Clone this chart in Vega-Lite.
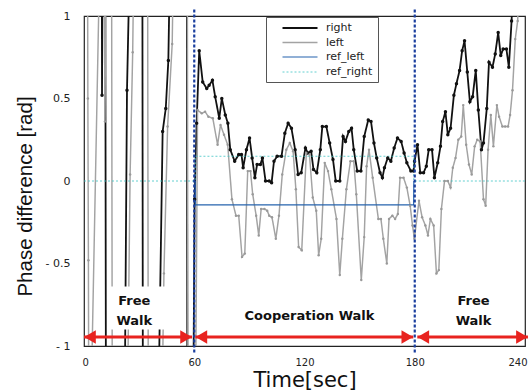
{
  "$schema": "https://vega.github.io/schema/vega-lite/v6.json",
  "width": 441,
  "height": 330,
  "autosize": {"type": "none"},
  "padding": {"left": 84, "top": 16, "right": 7, "bottom": 44},
  "background": "white",
  "config": {
    "view": {"stroke": "#222", "strokeWidth": 1.2},
    "font": "DejaVu Sans"
  },
  "datasets": {
    "series": [
      {"t": 9.4, "v": 4, "s": "right"}, {"t": 9.8, "v": 0.52, "s": "right"}, {"t": 11.2, "v": 4, "s": "right"}, {"t": 12.3, "v": -4, "s": "right"},
      {"t": 22.0, "v": -1.6, "s": "right"}, {"t": 23.4, "v": 0.55, "s": "right"}, {"t": 25.4, "v": 1.6, "s": "right"},
      {"t": 31.5, "v": 4, "s": "right"}, {"t": 32.3, "v": -4, "s": "right"},
      {"t": 40.3, "v": -1.5, "s": "right"}, {"t": 42.8, "v": 0.30, "s": "right"}, {"t": 44.5, "v": 0.44, "s": "right"}, {"t": 45.9, "v": 0.73, "s": "right"}, {"t": 47.2, "v": 1.6, "s": "right"},
      {"t": 55.7, "v": 4, "s": "right"}, {"t": 56.5, "v": -4, "s": "right"}, {"t": 58.8, "v": -2.5, "s": "right"}, {"t": 60.2, "v": -0.11, "s": "right"},
      {"t": 61.3, "v": 0.35, "s": "right"}, {"t": 62.7, "v": 0.79, "s": "right"},
      {"t": 64.6, "v": 0.60, "s": "right"}, {"t": 66.8, "v": 0.56, "s": "right"}, {"t": 68.1, "v": 0.58, "s": "right"}, {"t": 69.9, "v": 0.61, "s": "right"},
      {"t": 71.4, "v": 0.51, "s": "right"}, {"t": 73.6, "v": 0.38, "s": "right"}, {"t": 75.0, "v": 0.50, "s": "right"}, {"t": 76.9, "v": 0.40, "s": "right"},
      {"t": 78.3, "v": 0.35, "s": "right"}, {"t": 79.6, "v": 0.19, "s": "right"}, {"t": 82.0, "v": 0.12, "s": "right"}, {"t": 84.2, "v": 0.16, "s": "right"},
      {"t": 85.7, "v": 0.16, "s": "right"}, {"t": 86.6, "v": 0.08, "s": "right"}, {"t": 88.4, "v": 0.19, "s": "right"}, {"t": 90.1, "v": 0.26, "s": "right"},
      {"t": 91.5, "v": 0.14, "s": "right"}, {"t": 93.0, "v": 0.02, "s": "right"}, {"t": 94.2, "v": 0.10, "s": "right"}, {"t": 96.0, "v": 0.10, "s": "right"},
      {"t": 97.1, "v": 0.14, "s": "right"}, {"t": 98.8, "v": 0.00, "s": "right"}, {"t": 100.8, "v": 0.00, "s": "right"}, {"t": 102.1, "v": -0.01, "s": "right"},
      {"t": 103.4, "v": 0.12, "s": "right"}, {"t": 105.1, "v": 0.15, "s": "right"}, {"t": 107.5, "v": 0.15, "s": "right"}, {"t": 109.3, "v": 0.29, "s": "right"},
      {"t": 111.1, "v": 0.35, "s": "right"}, {"t": 112.9, "v": 0.32, "s": "right"}, {"t": 114.9, "v": 0.19, "s": "right"}, {"t": 116.5, "v": 0.04, "s": "right"},
      {"t": 118.2, "v": 0.05, "s": "right"}, {"t": 120.5, "v": 0.20, "s": "right"}, {"t": 121.8, "v": 0.17, "s": "right"}, {"t": 123.6, "v": 0.18, "s": "right"},
      {"t": 124.9, "v": 0.07, "s": "right"}, {"t": 126.7, "v": 0.05, "s": "right"}, {"t": 128.6, "v": 0.19, "s": "right"}, {"t": 129.7, "v": 0.33, "s": "right"},
      {"t": 131.9, "v": 0.33, "s": "right"}, {"t": 133.7, "v": 0.23, "s": "right"}, {"t": 135.5, "v": 0.13, "s": "right"}, {"t": 137.0, "v": 0.00, "s": "right"},
      {"t": 139.2, "v": 0.00, "s": "right"}, {"t": 141.0, "v": 0.27, "s": "right"}, {"t": 142.3, "v": 0.24, "s": "right"}, {"t": 144.1, "v": 0.30, "s": "right"},
      {"t": 145.6, "v": 0.32, "s": "right"}, {"t": 146.8, "v": 0.19, "s": "right"}, {"t": 148.7, "v": 0.06, "s": "right"}, {"t": 150.7, "v": 0.06, "s": "right"},
      {"t": 152.5, "v": 0.27, "s": "right"}, {"t": 154.7, "v": 0.37, "s": "right"}, {"t": 156.2, "v": 0.36, "s": "right"}, {"t": 157.8, "v": 0.23, "s": "right"},
      {"t": 159.3, "v": 0.14, "s": "right"}, {"t": 161.1, "v": 0.05, "s": "right"}, {"t": 162.4, "v": 0.02, "s": "right"}, {"t": 163.5, "v": 0.08, "s": "right"},
      {"t": 165.3, "v": 0.14, "s": "right"}, {"t": 167.0, "v": 0.12, "s": "right"}, {"t": 168.8, "v": 0.20, "s": "right"}, {"t": 170.6, "v": 0.26, "s": "right"},
      {"t": 172.6, "v": 0.24, "s": "right"}, {"t": 174.2, "v": 0.17, "s": "right"}, {"t": 175.7, "v": 0.11, "s": "right"}, {"t": 177.9, "v": 0.06, "s": "right"},
      {"t": 179.3, "v": 0.06, "s": "right"}, {"t": 179.9, "v": 0.12, "s": "right"}, {"t": 181.5, "v": 0.22, "s": "right"}, {"t": 183.0, "v": 0.05, "s": "right"},
      {"t": 184.8, "v": 0.05, "s": "right"}, {"t": 186.3, "v": 0.09, "s": "right"}, {"t": 187.6, "v": 0.19, "s": "right"}, {"t": 189.4, "v": 0.19, "s": "right"},
      {"t": 190.7, "v": 0.02, "s": "right"}, {"t": 192.5, "v": 0.11, "s": "right"}, {"t": 194.0, "v": 0.21, "s": "right"}, {"t": 195.2, "v": 0.36, "s": "right"},
      {"t": 196.7, "v": 0.42, "s": "right"}, {"t": 198.0, "v": 0.28, "s": "right"}, {"t": 199.5, "v": 0.32, "s": "right"}, {"t": 201.3, "v": 0.52, "s": "right"},
      {"t": 202.7, "v": 0.59, "s": "right"}, {"t": 204.4, "v": 0.67, "s": "right"}, {"t": 205.8, "v": 0.79, "s": "right"}, {"t": 207.1, "v": 0.85, "s": "right"},
      {"t": 208.6, "v": 0.66, "s": "right"}, {"t": 210.0, "v": 0.48, "s": "right"}, {"t": 211.5, "v": 0.51, "s": "right"}, {"t": 213.2, "v": 0.67, "s": "right"},
      {"t": 214.6, "v": 0.43, "s": "right"}, {"t": 216.3, "v": 0.19, "s": "right"}, {"t": 217.4, "v": 0.23, "s": "right"}, {"t": 219.2, "v": 0.44, "s": "right"},
      {"t": 220.4, "v": 0.72, "s": "right"}, {"t": 222.3, "v": 0.69, "s": "right"}, {"t": 223.8, "v": 0.77, "s": "right"}, {"t": 225.4, "v": 0.90, "s": "right"},
      {"t": 226.8, "v": 0.76, "s": "right"}, {"t": 228.1, "v": 0.80, "s": "right"}, {"t": 229.9, "v": 0.80, "s": "right"}, {"t": 231.2, "v": 0.69, "s": "right"},
      {"t": 232.7, "v": 0.97, "s": "right"}, {"t": 234.5, "v": 1.5, "s": "right"},

      {"t": 1.8, "v": 2, "s": "left"}, {"t": 2.1, "v": 0.5, "s": "left"}, {"t": 2.4, "v": -0.48, "s": "left"}, {"t": 2.7, "v": -2, "s": "left"},
      {"t": 10.6, "v": 2.5, "s": "left"}, {"t": 11.4, "v": 0.36, "s": "left"}, {"t": 13.0, "v": 3, "s": "left"}, {"t": 14.8, "v": 3, "s": "left"}, {"t": 15.6, "v": -3, "s": "left"},
      {"t": 23.5, "v": -1.5, "s": "left"}, {"t": 25.1, "v": 0.04, "s": "left"}, {"t": 26.5, "v": 0.78, "s": "left"}, {"t": 27.6, "v": 1.8, "s": "left"},
      {"t": 34.4, "v": 3, "s": "left"}, {"t": 35.2, "v": -3, "s": "left"},
      {"t": 42.3, "v": -1.5, "s": "left"}, {"t": 43.5, "v": -0.56, "s": "left"}, {"t": 45.5, "v": 0.33, "s": "left"}, {"t": 48.0, "v": 0.83, "s": "left"}, {"t": 49.0, "v": 1.6, "s": "left"},
      {"t": 56.0, "v": 3, "s": "left"}, {"t": 56.8, "v": -3, "s": "left"}, {"t": 60.3, "v": -2, "s": "left"},
      {"t": 61.8, "v": 0.43, "s": "left"}, {"t": 64.1, "v": 0.41, "s": "left"}, {"t": 65.9, "v": 0.42, "s": "left"}, {"t": 67.7, "v": 0.39, "s": "left"},
      {"t": 70.1, "v": 0.38, "s": "left"}, {"t": 72.7, "v": 0.22, "s": "left"}, {"t": 74.3, "v": 0.34, "s": "left"}, {"t": 76.2, "v": 0.28, "s": "left"},
      {"t": 78.2, "v": 0.22, "s": "left"}, {"t": 80.5, "v": -0.11, "s": "left"}, {"t": 82.7, "v": -0.21, "s": "left"}, {"t": 84.2, "v": -0.21, "s": "left"},
      {"t": 86.0, "v": -0.46, "s": "left"}, {"t": 87.5, "v": -0.44, "s": "left"}, {"t": 89.1, "v": 0.06, "s": "left"}, {"t": 90.6, "v": 0.06, "s": "left"},
      {"t": 91.8, "v": -0.08, "s": "left"}, {"t": 93.7, "v": -0.21, "s": "left"}, {"t": 95.1, "v": -0.33, "s": "left"}, {"t": 96.4, "v": -0.17, "s": "left"},
      {"t": 98.2, "v": -0.17, "s": "left"}, {"t": 99.7, "v": -0.18, "s": "left"}, {"t": 100.8, "v": -0.21, "s": "left"}, {"t": 102.3, "v": -0.22, "s": "left"},
      {"t": 104.4, "v": -0.35, "s": "left"}, {"t": 106.1, "v": -0.21, "s": "left"}, {"t": 107.9, "v": 0.04, "s": "left"}, {"t": 110.1, "v": 0.19, "s": "left"},
      {"t": 112.0, "v": 0.23, "s": "left"}, {"t": 113.8, "v": 0.18, "s": "left"}, {"t": 115.3, "v": -0.05, "s": "left"}, {"t": 116.8, "v": -0.40, "s": "left"},
      {"t": 118.5, "v": -0.42, "s": "left"}, {"t": 121.0, "v": 0.17, "s": "left"}, {"t": 122.7, "v": 0.16, "s": "left"}, {"t": 124.5, "v": -0.10, "s": "left"},
      {"t": 126.4, "v": -0.18, "s": "left"}, {"t": 127.7, "v": -0.45, "s": "left"}, {"t": 129.1, "v": -0.35, "s": "left"}, {"t": 131.0, "v": 0.11, "s": "left"},
      {"t": 132.8, "v": 0.06, "s": "left"}, {"t": 134.6, "v": -0.05, "s": "left"}, {"t": 137.4, "v": -0.23, "s": "left"}, {"t": 139.2, "v": -0.57, "s": "left"},
      {"t": 140.6, "v": -0.35, "s": "left"}, {"t": 142.8, "v": -0.05, "s": "left"}, {"t": 145.0, "v": 0.12, "s": "left"}, {"t": 146.8, "v": 0.12, "s": "left"},
      {"t": 148.2, "v": -0.08, "s": "left"}, {"t": 150.9, "v": -0.60, "s": "left"}, {"t": 152.5, "v": -0.34, "s": "left"}, {"t": 153.8, "v": 0.09, "s": "left"},
      {"t": 155.1, "v": 0.19, "s": "left"}, {"t": 157.1, "v": 0.02, "s": "left"}, {"t": 160.2, "v": -0.23, "s": "left"}, {"t": 161.6, "v": -0.23, "s": "left"},
      {"t": 162.9, "v": -0.35, "s": "left"}, {"t": 164.8, "v": -0.50, "s": "left"}, {"t": 166.0, "v": -0.23, "s": "left"}, {"t": 167.8, "v": -0.21, "s": "left"},
      {"t": 169.3, "v": -0.23, "s": "left"}, {"t": 170.8, "v": -0.20, "s": "left"}, {"t": 172.0, "v": 0.02, "s": "left"}, {"t": 173.9, "v": 0.02, "s": "left"},
      {"t": 175.7, "v": -0.04, "s": "left"}, {"t": 177.5, "v": -0.15, "s": "left"}, {"t": 178.8, "v": -0.27, "s": "left"}, {"t": 179.8, "v": -0.35, "s": "left"},
      {"t": 182.3, "v": -0.12, "s": "left"}, {"t": 184.0, "v": -0.22, "s": "left"}, {"t": 185.8, "v": -0.27, "s": "left"}, {"t": 187.2, "v": -0.33, "s": "left"},
      {"t": 188.5, "v": -0.23, "s": "left"}, {"t": 190.3, "v": -0.27, "s": "left"}, {"t": 191.8, "v": -0.56, "s": "left"}, {"t": 193.1, "v": -0.54, "s": "left"},
      {"t": 194.5, "v": -0.17, "s": "left"}, {"t": 196.2, "v": 0.00, "s": "left"}, {"t": 198.0, "v": 0.00, "s": "left"}, {"t": 199.5, "v": -0.04, "s": "left"},
      {"t": 200.7, "v": 0.08, "s": "left"}, {"t": 202.2, "v": 0.14, "s": "left"}, {"t": 203.7, "v": 0.25, "s": "left"}, {"t": 205.3, "v": 0.27, "s": "left"},
      {"t": 206.4, "v": 0.46, "s": "left"}, {"t": 208.0, "v": 0.22, "s": "left"}, {"t": 209.5, "v": 0.10, "s": "left"}, {"t": 211.0, "v": 0.04, "s": "left"},
      {"t": 212.6, "v": 0.21, "s": "left"}, {"t": 214.0, "v": 0.25, "s": "left"}, {"t": 215.6, "v": 0.24, "s": "left"}, {"t": 217.4, "v": -0.11, "s": "left"},
      {"t": 218.6, "v": -0.15, "s": "left"}, {"t": 219.9, "v": 0.19, "s": "left"}, {"t": 221.4, "v": 0.40, "s": "left"}, {"t": 222.8, "v": 0.21, "s": "left"},
      {"t": 224.7, "v": 0.46, "s": "left"}, {"t": 225.9, "v": 0.39, "s": "left"}, {"t": 227.7, "v": 0.33, "s": "left"}, {"t": 229.2, "v": 0.33, "s": "left"},
      {"t": 230.8, "v": 0.33, "s": "left"}, {"t": 231.9, "v": 0.40, "s": "left"}, {"t": 233.2, "v": 0.55, "s": "left"}, {"t": 234.7, "v": 0.86, "s": "left"},
      {"t": 236.0, "v": 0.97, "s": "left"}, {"t": 237.5, "v": 1.4, "s": "left"},

      {"t": 60.5, "v": 0, "s": "ref_left"}, {"t": 60.6, "v": -0.145, "s": "ref_left"}, {"t": 179.4, "v": -0.145, "s": "ref_left"}, {"t": 179.5, "v": 0, "s": "ref_left"},

      {"t": 0, "v": 0, "s": "ref_right"}, {"t": 60.5, "v": 0, "s": "ref_right"}, {"t": 60.6, "v": 0.15, "s": "ref_right"}, {"t": 179.4, "v": 0.15, "s": "ref_right"}, {"t": 179.5, "v": 0, "s": "ref_right"}, {"t": 240, "v": 0, "s": "ref_right"}
    ],
    "phases": [
      {"t1": 0, "t2": 58.8},
      {"t1": 60.6, "t2": 179.2},
      {"t1": 181.4, "t2": 241.6}
    ],
    "bounds": [{"t": 60}, {"t": 180}],
    "mask": [{"t1": 14, "t2": 52, "v1": -0.64, "v2": -0.9}],
    "labels": [
      {"t": 27.4, "v": -0.73, "label": "Free"},
      {"t": 27.4, "v": -0.85, "label": "Walk"},
      {"t": 122.7, "v": -0.82, "label": "Cooperation Walk"},
      {"t": 212, "v": -0.73, "label": "Free"},
      {"t": 212, "v": -0.85, "label": "Walk"}
    ]
  },
  "layer": [
    {
      "mark": {"type": "rule", "color": "#b0b0b0", "strokeWidth": 0.8},
      "encoding": {"y": {"datum": 0, "type": "quantitative"}}
    },
    {
      "data": {"name": "series"},
      "mark": {"type": "line", "clip": true},
      "encoding": {
        "x": {
          "field": "t", "type": "quantitative",
          "scale": {"domain": [0, 240], "nice": false, "zero": false},
          "axis": {
            "values": [0, 60, 120, 180, 240], "ticks": false, "domain": false, "grid": false,
            "labelFlush": true, "labelFlushOffset": 2,
            "labelFontSize": 10, "labelColor": "#222", "labelPadding": 11,
            "labelFont": "DejaVu Sans",
            "title": "Time[sec]", "titleFontSize": 21, "titleFontWeight": "normal",
            "titleFont": "DejaVu Sans", "titleColor": "#111", "titleY": 34, "titleBaseline": "middle"
          }
        },
        "y": {
          "field": "v", "type": "quantitative",
          "scale": {"domain": [-1, 1], "nice": false, "zero": false},
          "axis": {
            "values": [-1, -0.5, 0, 0.5, 1], "ticks": false, "domain": false, "grid": false,
            "labelFontSize": 11, "labelColor": "#222", "labelPadding": 14,
            "labelFont": "DejaVu Sans",
            "labelExpr": "datum.value < 0 ? '- ' + format(-datum.value, '') : format(datum.value, '')",
            "title": "Phase difference [rad]", "titleFontSize": 20.5, "titleFontWeight": "normal",
            "titleFont": "Liberation Sans", "titleColor": "#111",
            "titleX": -59, "titleY": 180, "titleBaseline": "middle"
          }
        },
        "color": {
          "field": "s", "type": "nominal",
          "scale": {"domain": ["right", "left", "ref_left", "ref_right"], "range": ["#111111", "#a3a3a3", "#2563ad", "#3cc4c4"]},
          "legend": {
            "title": null, "orient": "none", "legendX": 182, "legendY": 1,
            "fillColor": "white", "strokeColor": "#555", "padding": 5, "rowPadding": 3.5,
            "symbolType": "M-3.5,0L3.5,0", "symbolSize": 100, "symbolStrokeWidth": 1.6,
            "symbolOffset": 23, "labelOffset": 20, "labelFontSize": 11, "labelColor": "#222",
            "labelFont": "DejaVu Sans"
          }
        },
        "strokeDash": {
          "field": "s", "type": "nominal",
          "scale": {"domain": ["right", "left", "ref_left", "ref_right"], "range": [[1, 0], [1, 0], [1, 0], [2, 2]]},
          "legend": null
        },
        "strokeWidth": {
          "field": "s", "type": "nominal",
          "scale": {"domain": ["right", "left", "ref_left", "ref_right"], "range": [1.8, 0.8, 1.6, 1.2]},
          "legend": null
        }
      }
    },
    {
      "data": {"name": "series"},
      "transform": [{"filter": "datum.s === 'right'"}],
      "mark": {"type": "point", "filled": true, "clip": true, "color": "#111", "size": 12, "opacity": 1},
      "encoding": {
        "x": {"field": "t", "type": "quantitative"},
        "y": {"field": "v", "type": "quantitative"}
      }
    },
    {
      "data": {"name": "series"},
      "transform": [{"filter": "datum.s === 'left'"}],
      "mark": {"type": "point", "filled": true, "clip": true, "color": "#999", "size": 6, "opacity": 1},
      "encoding": {
        "x": {"field": "t", "type": "quantitative"},
        "y": {"field": "v", "type": "quantitative"}
      }
    },
    {
      "data": {"name": "mask"},
      "mark": {"type": "rect", "fill": "white"},
      "encoding": {
        "x": {"field": "t1", "type": "quantitative"},
        "x2": {"field": "t2"},
        "y": {"field": "v1", "type": "quantitative"},
        "y2": {"field": "v2"}
      }
    },
    {
      "data": {"name": "bounds"},
      "mark": {"type": "rule", "color": "#1b3f9e", "strokeWidth": 2.2, "strokeDash": [3, 2]},
      "encoding": {
        "x": {"field": "t", "type": "quantitative"},
        "y": {"datum": 1.04, "type": "quantitative"},
        "y2": {"datum": -1.04}
      }
    },
    {
      "data": {"name": "phases"},
      "mark": {"type": "rule", "color": "#e8231f", "strokeWidth": 3},
      "encoding": {
        "x": {"field": "t1", "type": "quantitative"},
        "x2": {"field": "t2"},
        "y": {"datum": -0.945, "type": "quantitative"}
      }
    },
    {
      "data": {"name": "phases"},
      "mark": {"type": "point", "shape": "triangle-left", "filled": true, "color": "#e8231f", "size": 180, "opacity": 1, "strokeWidth": 0, "xOffset": 6},
      "encoding": {
        "x": {"field": "t1", "type": "quantitative"},
        "y": {"datum": -0.945, "type": "quantitative"}
      }
    },
    {
      "data": {"name": "phases"},
      "mark": {"type": "point", "shape": "triangle-right", "filled": true, "color": "#e8231f", "size": 180, "opacity": 1, "strokeWidth": 0, "xOffset": -6},
      "encoding": {
        "x": {"field": "t2", "type": "quantitative"},
        "y": {"datum": -0.945, "type": "quantitative"}
      }
    },
    {
      "data": {"name": "labels"},
      "mark": {"type": "text", "font": "DejaVu Sans", "fontSize": 13, "fontWeight": "bold", "color": "#111"},
      "encoding": {
        "x": {"field": "t", "type": "quantitative"},
        "y": {"field": "v", "type": "quantitative"},
        "text": {"field": "label"}
      }
    }
  ]
}
